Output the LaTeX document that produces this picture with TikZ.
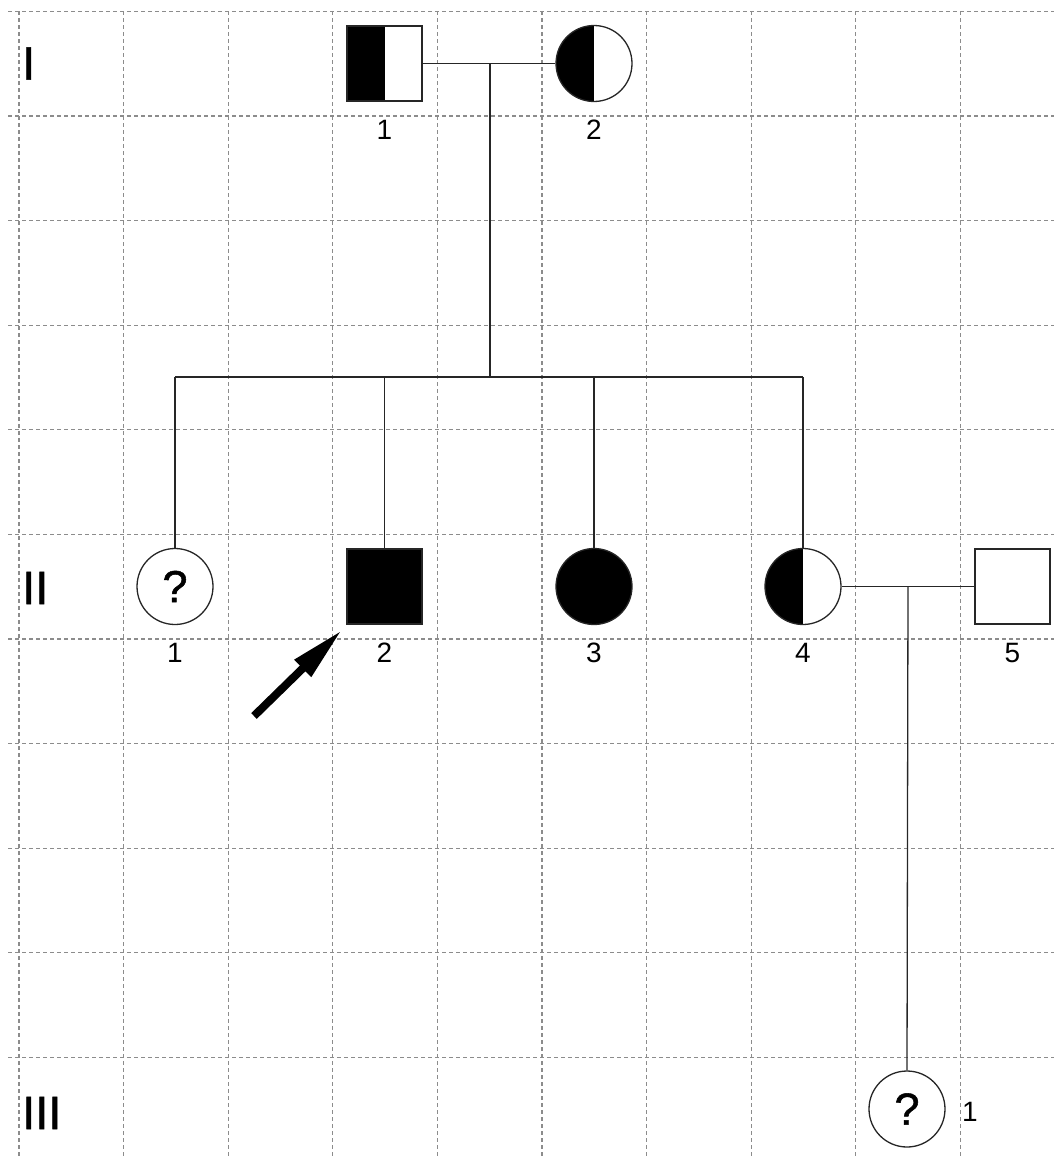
\documentclass[tikz,border=0pt]{standalone}
\usepackage{fontspec}
\setmainfont{Liberation Sans}
\newfontfamily\boldishfont{Liberation Sans}[FakeBold=1.2]
\usetikzlibrary{arrows.meta}
\tikzset{
  gridline/.style={draw=black!45, line width=1.2pt, dash pattern=on 4pt off 3pt},
  conn/.style={draw=black!85, line width=1.3pt},
  male/.style={rectangle, draw=black!85, line width=1.3pt, minimum size=75pt, inner sep=0pt, fill=white},
  female/.style={circle, draw=black!85, line width=1.3pt, minimum size=76pt, inner sep=0pt, fill=white},
  affected/.style={fill=black},
  carrier/.style={path picture={\fill[black] (path picture bounding box.south west) rectangle (path picture bounding box.north);}},
  num/.style={font=\fontsize{28}{30}\selectfont, inner sep=0pt},
  gen/.style={font=\boldishfont\fontsize{47}{50}\selectfont, inner sep=0pt, anchor=west},
  qmark/.style={font=\boldishfont\fontsize{45}{47}\selectfont},
  proband/.style={line width=8pt, -{Triangle[length=55pt,width=22pt]}}
}
\begin{document}
\begin{tikzpicture}[x=1pt,y=-1pt]
\useasboundingbox (0,0) rectangle (1054,1159);
% grid
\foreach \i in {0,...,10} {
  \draw[gridline] (8,{11.3+104.6*\i}) -- (1054,{11.3+104.6*\i});
}
\foreach \i in {0,...,9} {
  \draw[gridline] ({19+104.6*\i},11.3) -- ({19+104.6*\i},1159);
}
% generation labels
\node[gen] (gI) at (22,63.5) {I};
\node[gen] (gII) at (22,588) {II};
\node[gen] (gIII) at (22,1113) {III};
% generation I
\node[male, carrier] (I1) at (384.5,63.5) {};
\node[female, carrier] (I2) at (594,63.5) {};
\node[num] (lI1) at (384.5,130) {1};
\node[num] (lI2) at (594,130) {2};
% generation II
\node[female, qmark] (II1) at (175,586.5) {?};
\node[male, affected] (II2) at (384.5,586.5) {};
\node[female, affected] (II3) at (594,586.5) {};
\node[female, carrier] (II4) at (803,586.5) {};
\node[male] (II5) at (1012.5,586.5) {};
\node[num] (lII1) at (175,653) {1};
\node[num] (lII2) at (384.5,653) {2};
\node[num] (lII3) at (594,653) {3};
\node[num] (lII4) at (803,653) {4};
\node[num] (lII5) at (1012.5,653) {5};
% generation III
\node[female, qmark] (III1) at (907,1109) {?};
\node[num, anchor=west] (lIII1) at (962,1112) {1};
% connectors
\coordinate (m1) at (490,63.5);
\coordinate (s1) at (490,377);
\draw[conn] (I1.east) -- (I2.west);
\draw[conn] (m1) -- (s1);
\draw[conn] (II1.north |- s1) -- (II4.north |- s1);
\foreach \c in {II1,II2,II3,II4} {
  \draw[conn] (\c.north |- s1) -- (\c.north);
}
\coordinate (m2) at (908,586.5);
\draw[conn] (II4.east) -- (II5.west);
\draw[conn] (m2) -- (III1.north);
% proband arrow
\coordinate (arT) at (254,716);
\coordinate (arH) at (342,630);
\draw[proband] (arT) -- (arH);
\end{tikzpicture}
\end{document}
